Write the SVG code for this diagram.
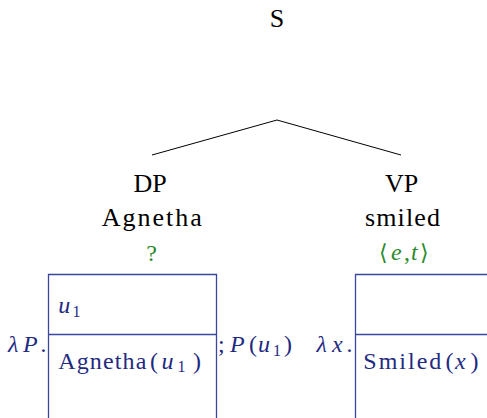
<svg xmlns="http://www.w3.org/2000/svg" width="487" height="418" viewBox="0 0 487 418">
<style>
.lab{font-size:26px;fill:#000;}
.typ{font-size:24px;fill:#2a8a2a;}
.br{font-size:22px;}
.drs{font-size:24px;fill:#1f2a82;}
.it{font-style:italic;}
.sub{font-size:16px;}
.edge{stroke:#000;stroke-width:1;fill:none;}
.box{stroke:#3a479e;stroke-width:1.3;fill:none;}
</style>
<g id="connectors">
<path class="edge" d="M277,120 L152,155"/>
<path class="edge" d="M277,120 L401,155"/>
</g>
<g font-family="Liberation Serif, DejaVu Serif, serif">
<g id="node-S">
<text class="lab" x="277" y="27" text-anchor="middle">S</text>
</g>
<g id="node-DP">
<text class="lab" x="150" y="192" text-anchor="middle">DP</text>
<text class="lab" x="101.7" y="226" textLength="100">Agnetha</text>
<text class="typ" x="151.7" y="261" text-anchor="middle">?</text>
</g>
<g id="node-VP">
<text class="lab" x="401.7" y="192" text-anchor="middle">VP</text>
<text class="lab" x="365" y="226" textLength="75">smiled</text>
<text class="typ" y="260"><tspan class="br" font-family="DejaVu Serif, serif" x="379">⟨</tspan><tspan class="it" x="391">e</tspan><tspan x="404">,</tspan><tspan class="it" x="411">t</tspan><tspan class="br" font-family="DejaVu Serif, serif" x="420">⟩</tspan></text>
</g>
<g id="drs-DP">
<path class="box" d="M48.5,418 V274.5 H216.5 V418 M48.5,334.5 H216.5"/>
<text class="drs it" y="352"><tspan x="8">λ</tspan><tspan x="23">P</tspan><tspan x="41">.</tspan></text>
<text class="drs" y="313"><tspan class="it" x="58.3">u</tspan><tspan class="sub" x="72.5" y="317">1</tspan></text>
<text class="drs" y="368.5"><tspan x="58.3" textLength="88">Agnetha</tspan><tspan x="150">(</tspan><tspan class="it" x="161.5">u</tspan><tspan class="sub" x="177.5" y="372">1</tspan><tspan x="193" y="368.5">)</tspan></text>
<text class="drs" y="352"><tspan x="218">;</tspan><tspan class="it" x="230">P</tspan><tspan x="249">(</tspan><tspan class="it" x="258">u</tspan><tspan class="sub" x="273" y="355.5">1</tspan><tspan x="284" y="352">)</tspan></text>
</g>
<g id="drs-VP">
<path class="box" d="M355.5,418 V274.5 H487 M355.5,334.5 H487"/>
<text class="drs it" y="352"><tspan x="316.5">λ</tspan><tspan x="332">x</tspan><tspan x="347">.</tspan></text>
<text class="drs" y="368.5"><tspan x="363.3" textLength="78">Smiled</tspan><tspan x="445.5">(</tspan><tspan class="it" x="455">x</tspan><tspan x="470.5">)</tspan></text>
</g>
</g>
</svg>
